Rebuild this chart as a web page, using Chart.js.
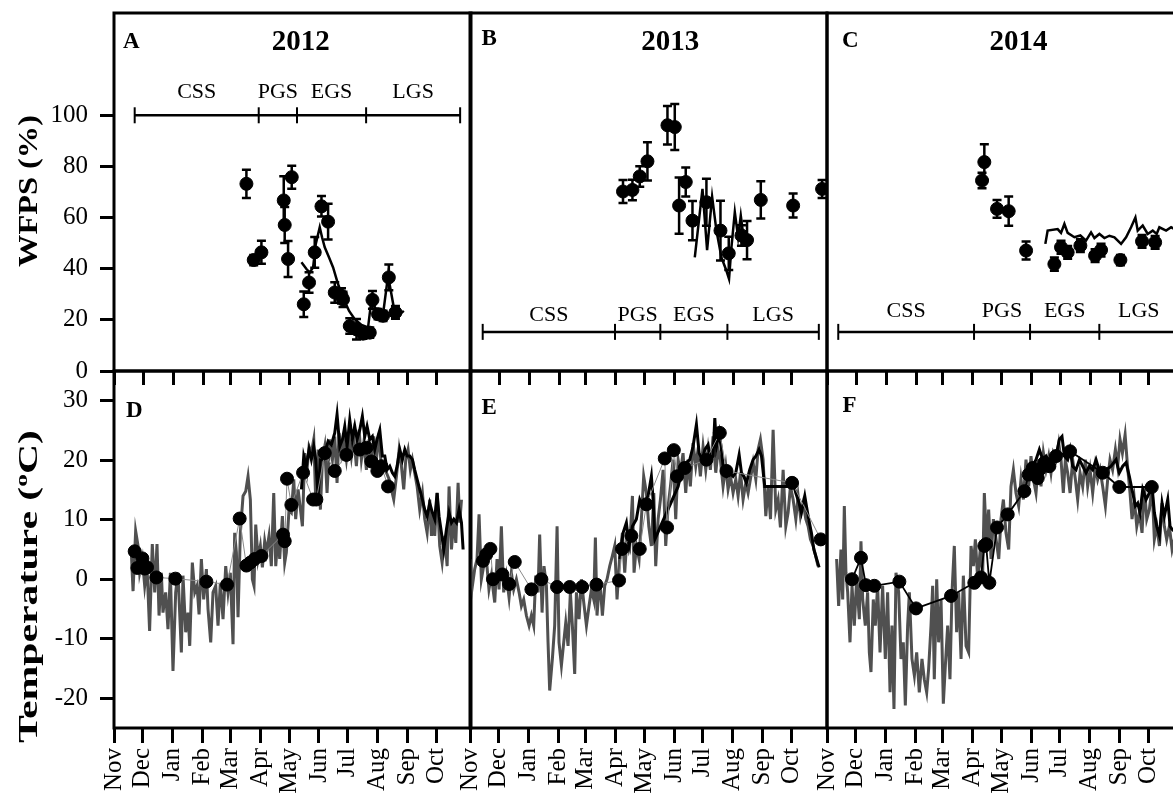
<!DOCTYPE html>
<html>
<head>
<meta charset="utf-8">
<script src="https://cdn.jsdelivr.net/npm/chart.js@4.4.1/dist/chart.umd.min.js"></script>
<style>
  html, body { margin: 0; padding: 0; background: #fff; }
  #wrap { position: relative; width: 1173px; height: 799px; overflow: hidden; background: #fff; }
  #wrap canvas { position: absolute; }
</style>
</head>
<body>
<div id="wrap">
  <canvas id="pA"></canvas><canvas id="pB"></canvas><canvas id="pC"></canvas>
  <canvas id="pD"></canvas><canvas id="pE"></canvas><canvas id="pF"></canvas>
</div>
<script>
// ---------- axis categories ----------
const months = ['Nov','Dec','Jan','Feb','Mar','Apr','May','Jun','Jul','Aug','Sep','Oct'];
// day offsets (from 1 Nov) of each month start; 2011/12 season contains 29 Feb
const monthStarts2012 = [0,30,61,92,121,152,182,213,243,274,305,335];
const monthStarts = [0,30,61,92,120,151,181,212,242,273,304,334];
const wfpsTicks = [0,20,40,60,80,100];
const tempTicks = [-20,-10,0,10,20,30];

// ---------- growing-season phases ----------
const phaseNames = ['CSS','PGS','EGS','LGS'];
const phaseBounds2012 = [21.5,150.4,190.2,262,359.7];
const phaseBounds2013 = [13.2,150.7,197.8,267.5,362.5];
const phaseBounds2014 = [11.7,152.8,211,283,365];

// ---------- WFPS (%): measured [day, mean, error] ----------
const wfps2012 = [[137.6,73.2,5.5],[145.2,43.4,2],[153.2,46.4,4.5],[176.4,66.7,9.5],[177.4,57.1,7],[180.9,43.8,7],[184.7,75.8,4.5],[197.2,26.1,5],[202.7,34.6,4],[208.6,46.4,6],[215.6,64.4,4],[222.5,58.4,7],[229.4,30.7,4],[236.4,29.4,3],[238,28,3],[245,17.6,3],[252,16.3,4],[258.8,14.6,2],[265.8,15,2],[268.6,27.8,3.5],[274.4,22.2,2],[279.6,21.6,2],[285.6,36.6,5],[292.5,22.9,2.5]];
const wfps2013 = [[159,70.2,4.5],[168.8,70.8,4],[176.4,76.1,4],[184.4,82,7.5],[205.2,96.1,7.5],[212.8,95.4,9],[217.3,64.7,11],[224.2,73.9,5.7],[231.2,58.8,7.7],[245.7,66,9.2],[260.3,54.9,11.7],[268.9,46,6.5],[282.1,53,4],[287.9,51.2,7.5],[302.2,66.9,7.3],[335.8,64.7,4.7],[365.9,71.2,3.5]];
const wfps2014 = [[161.1,74.5,3],[163.5,81.7,7],[176.7,63.4,3.5],[188.8,62.5,5.7],[206.9,47.1,3.5],[236.3,41.8,2.6],[243.2,48.4,2.5],[250.1,46.4,2.5],[263.3,49,2.5],[278.6,45.1,2.5],[284.8,47.3,2.5],[304.9,43.4,2],[327.4,50.7,2.5],[341,50.3,2.5]];

// ---------- WFPS (%): continuous record [day, value] ----------
const wfpsLine2012 = [[194.8,42.5],[200,39.9],[203.4,38.5],[206.9,40.5],[209.7,49.7],[213.8,56.2],[216.2,52.3],[219,48.4],[223.5,44.4],[227.7,40.5],[232.8,34],[238,28.7],[244.3,23.5],[250.2,20.3],[257.2,18],[264,17],[267.6,28.1],[273.4,22.9],[279.6,22.2],[284.8,37.3],[290.8,24.8],[297,22.2],[301.2,23.5]];
const wfpsLine2013 = [[233.6,44.4],[241.6,71.2],[246.4,47.3],[251.6,68.2],[256.1,54.9],[261.3,44.4],[266.5,39.2],[269.2,36],[271.7,48.4],[275.2,62.1],[278.6,52.3],[281.4,60.8],[284.5,51.6]];
const wfpsLine2014 = [[226.9,49.7],[229.3,54.9],[239.7,55.5],[243.2,54],[246.7,57.5],[250.1,54],[257.1,52.3],[263.3,53],[269.2,51],[274.4,54.2],[277.9,52],[283.1,53.6],[288.3,52],[293.5,52.9],[298.7,52.3],[305.6,49.7],[310.8,52.3],[316,56.2],[320.5,60],[322.9,54.9],[328.1,56.9],[333.3,53.6],[338.5,54.9],[342.6,53.6],[345.4,56.2],[352.4,54.9],[357.6,56.2],[364,55]];

// ---------- Temperature (°C): daily air [day, value] ----------
const air2012 = [[18,4.5],[19.8,-2],[22.5,8.1],[25,5.6],[26.7,1.1],[29.5,3.4],[31.9,-1.1],[34.3,2.2],[37,-8.7],[39.8,5.9],[42.3,-2.2],[44.7,5.9],[46.8,-6.1],[49.2,1.1],[50.9,-5.6],[53.7,-2.2],[56.1,-8.4],[58.6,1.1],[61.3,-15.4],[64.1,-2.2],[66.5,1.1],[70,-12.3],[71.7,0.6],[74.5,-8.9],[76.9,-5.6],[78.7,-11.2],[81.4,2.8],[83.9,-2.2],[86.3,-1.1],[88.4,-5.9],[90.8,3.4],[93.2,-3.4],[96,1.7],[97.7,-5],[100.5,-10.6],[102.9,-2.2],[105.7,-1.1],[108.1,-7.8],[110.5,-0.6],[113.3,-6.7],[116.1,2.2],[118.5,-2.2],[120.9,1.1],[123.7,-10.9],[125.4,7.8],[127.2,4.5],[128.9,-6.4],[131.3,7.8],[134.1,14],[136.9,14.8],[139.3,17.3],[141.7,13.4],[143.8,0],[145.5,-1.1],[147.3,9.2],[149.7,3.4],[152.1,5.6],[154.2,2],[156.6,6.4],[158.4,4.5],[161.1,7.3],[163.5,2.2],[166,14.5],[168.1,2.2],[170.5,7.8],[172.2,3.4],[175,10.6],[177.4,2.8],[179.1,4.5],[181.9,11.7],[184.3,11.2],[186.8,16.8],[188.8,10.1],[191.3,15.1],[193,12.8],[195.8,8.9],[198.2,21.2],[200.6,18.4],[202.7,22.3],[205.1,21.2],[207.6,23.5],[209.6,13.4],[212.1,21.8],[214.5,11.7],[216.6,20.1],[219,22.3],[221.4,14.5],[224.2,23.5],[227,20.1],[229.4,24],[231.8,16.2],[233.9,24.6],[236.3,21.2],[238.7,23.5],[241.5,20.1],[244.3,24],[246.7,20.7],[249.1,24],[251.9,19],[254.7,25.1],[257.1,20.1],[259.5,22.9],[262.3,18.4],[265.1,23.5],[267.5,19],[269.9,24],[272.7,20.1],[275.5,24.6],[277.9,18.4],[280.3,19],[283.1,17.9],[285.9,16.8],[288.3,15.1],[290.7,13.4],[293.5,17.3],[296.3,21.8],[298.7,19],[301.1,15.1],[303.2,20.1],[305.6,21.8],[308,18.4],[310.1,20.1],[312.5,17.9],[315,15.6],[317.7,11.7],[320.5,14.5],[322.9,10.1],[325.4,7.8],[328.1,13.4],[329.9,7.3],[331.6,10.6],[333.3,7.3],[335.8,14.5],[338.5,5.6],[341,2.8],[343.7,7.3],[346.2,2.2],[348.2,15.6],[350.7,5],[353.1,10.1],[355.2,6.1],[357.6,16.2],[359.3,9.5],[361.1,13.4]];
const air2013 = [[0,3.4],[2.5,-1.1],[4.9,1.7],[7.3,3.4],[9.4,10.9],[11.8,0],[14.2,2.2],[17,3.4],[19.7,-1.7],[22.2,0.6],[25.7,-3.9],[28.1,3.4],[30.2,-1.7],[32.6,8.9],[35,-2.2],[37.8,0.6],[40.6,-3.1],[43,1.1],[45.4,-1.7],[48.2,0],[51,-2.2],[53.4,-4.5],[55.8,-3.4],[58.6,-6.1],[61.4,-7.8],[63.8,-6.1],[66.2,-7.8],[68.3,0.6],[70.7,-2.2],[72.4,7.5],[74.9,-5.6],[76.9,2.2],[79.4,-1.1],[81.1,-10.6],[82.8,-18.7],[85.6,-13.4],[88,-7.8],[90.5,8.9],[92.5,-10.6],[95,-14.5],[97.4,-10.6],[99.5,-7.3],[101.9,-11.2],[104.3,-2.2],[106.4,-7.8],[108.8,-15.9],[110.6,-2.2],[113.3,-6.7],[115.8,0],[118.2,-3.9],[121,-7.8],[123.7,-4.5],[126.2,-1.7],[128.6,-3.4],[130.3,7],[132,-6.1],[134.8,0],[137.6,-6.1],[140,-1.1],[142.4,0],[145.2,2.2],[147.9,3.9],[150.4,5.6],[152.8,-3.4],[155.6,3.9],[158.4,7.8],[160.8,1.1],[163.2,7.3],[166,5.6],[168.8,14],[170.5,1.1],[172.9,5.6],[175.7,3.4],[178.1,10.1],[180.5,17.3],[183.3,14.5],[185.8,8.9],[188.5,5.6],[191,14.5],[193,2.2],[195.5,10.1],[197.9,13.4],[200.7,18.4],[203.4,5.6],[205.9,12.3],[208.3,15.6],[211.1,20.1],[213.8,10.1],[216.3,20.1],[218.7,17.9],[221.4,21.2],[224.2,14.5],[226.6,20.1],[229,15.6],[231.8,22.9],[234.6,19],[237,21.8],[239.4,17.3],[242.2,22.3],[245,18.4],[247.4,21.8],[249.8,18.4],[252.6,24],[255.4,17.9],[257.8,21.8],[260.2,20.1],[263,15.6],[265.8,19],[268.2,15.1],[270.7,17.3],[273.4,14.5],[276.2,16.8],[278.6,14],[281.1,17.9],[283.8,13.4],[286.6,16.2],[289,14.5],[291.4,16.8],[294.2,19.6],[297,16.8],[299.4,21.8],[301.8,23.5],[304.6,20.1],[307.4,10.6],[309.8,15.6],[312.3,10.1],[315,25.1],[317.8,11.7],[320.2,13.4],[322.6,8.7],[325.4,18.4],[328.2,8.9],[330.6,11.2],[333,15.6],[335.8,13.4],[338.6,10.1],[341,14],[343.4,10.6],[346.2,12.8],[349,10.1],[351.4,8.9],[353.8,6.7],[356.6,5.6],[359.3,3.9],[361.7,2.2]];
const air2014 = [[10,3.4],[12.1,-4.5],[14.5,5],[16.3,-3.4],[18,12.3],[19.7,1.1],[21.5,-2.2],[23.9,-10.6],[26,-1.1],[28.4,-7.8],[30.8,0],[33.6,-6.7],[35.3,6.4],[37.1,-3.4],[39.8,-7.8],[42.2,-2.2],[44,-12.3],[45.7,-15.6],[48.1,-3.4],[50.2,-7.8],[52.6,-1.1],[55.1,-12.3],[57.8,-1.1],[60.6,-13.4],[63,-2.2],[65.5,-19],[67.5,-7.8],[69.6,-21.8],[71.7,1.1],[74.5,-2.2],[76.9,-13.4],[79.3,-10.6],[81.4,-21.2],[83.8,-7.8],[85.6,-2.2],[88.3,-13.4],[90.8,-16.2],[93.2,-12.3],[95.9,-19],[98.7,-13.4],[101.1,-16.8],[103.6,-19],[105.6,-15.1],[108.1,-7.8],[109.8,-1.1],[111.5,-16.8],[114,0],[116,-10.6],[118.5,-3.4],[120.9,-20.9],[123,-14.5],[125.4,-7.8],[127.8,-16.8],[129.9,-2.2],[132.3,5.6],[134.7,-8.9],[136.8,-2.2],[139.3,-13.4],[141.7,0.6],[144.5,-11.2],[147.2,-12.3],[149.7,5.6],[152.1,2.2],[154.2,6.7],[156.6,0],[159,4.5],[161.8,1.1],[163.5,14.5],[165.9,6.1],[168,11.7],[170.5,3.4],[172.9,10.1],[175.7,6.7],[178.5,3.4],[180.8,10.1],[183.3,13.4],[186,7.8],[188.8,5],[191.2,15.6],[193.7,18.4],[196.4,14.5],[199.2,12.3],[201.6,16.8],[204.1,13.4],[206.8,20.1],[209.6,15.6],[212,20.7],[214.5,16.8],[217.2,14.5],[220,20.1],[222.4,15.6],[224.9,21.2],[227.6,18.4],[230.4,20.7],[232.8,17.9],[235.2,21.2],[238,20.1],[240.8,22.9],[243.2,20.1],[245.6,14.5],[247.7,20.1],[250.1,17.9],[252.6,14.5],[255.3,20.1],[258.1,16.8],[260.5,13.4],[263,17.9],[265.7,15.6],[268.5,20.1],[270.9,15.6],[273.4,18.4],[276.1,14.5],[278.9,19],[281.3,16.8],[283.8,18.4],[286.5,15.6],[289.3,12.3],[291.7,16.8],[294.1,20.1],[296.8,18.4],[299.7,21.8],[302.1,19],[304.5,23.5],[307,21.2],[309.8,24.3],[312.3,19],[314.9,14.5],[317,10.1],[319.4,13.4],[321.9,8.9],[324.6,11.2],[327.4,7.8],[329.8,15.6],[332.3,10.1],[335,11.7],[337.8,15.6],[340.2,6.7],[342.7,8.9],[345.5,5.6],[348.2,12.8],[350.6,8.9],[353,6.7],[355.8,8.9],[358.6,5],[362,7.5]];

// ---------- Temperature (°C): continuous soil record [day, value] ----------
const soil2012 = [[194.8,15.1],[197.2,20.7],[199.9,19],[202.7,21.8],[205.1,20.1],[207.6,22.3],[209.6,20.1],[212.1,14],[214.5,20.1],[217.3,20.1],[220,21.8],[222.5,23.2],[225.9,22.6],[229.4,24.6],[231.8,27.7],[234.6,22.3],[237.4,23.5],[239.8,25.7],[242.2,22.3],[245,26.8],[247.7,23.5],[250.2,25.7],[252.6,23.5],[255.4,25.1],[258.1,27.4],[260.6,24],[263,25.7],[265.8,23.5],[268.5,24],[271,21.8],[273.4,23.5],[276.2,25.1],[278.9,20.7],[281.4,20.7],[283.8,18.4],[286.6,19],[289.3,17.9],[291.8,17.3],[294.2,19],[297,21.8],[299.7,20.1],[302.2,21.8],[304.6,20.7],[307.3,20.7],[310.1,20.1],[312.5,18.4],[315,16.8],[317.7,15.1],[320.5,13.4],[322.9,11.7],[325.4,10.6],[328.1,12.8],[330.9,11.2],[333.3,10.1],[335.8,14.5],[337.8,10.6],[340.3,7.8],[342.7,5],[345.5,8.4],[348.2,11.2],[350.7,9.5],[353.1,10.1],[355.9,9.5],[358.6,11.7],[361.1,9.5],[362.8,5]];
const soil2013 = [[155.6,3.4],[159.1,7.8],[162.5,9.5],[165.3,5.6],[168.8,8.9],[172.9,10.1],[176.4,13.4],[179.2,12.3],[181.6,12.8],[185.1,14],[188.5,17.3],[190.3,13.4],[192,6.7],[216.3,15.6],[218.7,17.3],[221.4,18.4],[224.9,19.6],[228.4,20.1],[231.8,22.3],[235.3,26],[238.1,21.2],[241.5,20.1],[244,21.8],[247.4,22.6],[249.9,20.1],[252.6,20.7],[254.4,27.1],[256.1,22.3],[258.9,24.6],[261.3,21.8],[263.7,17.9],[266.5,17.3],[270,17.9],[273.4,17.3],[276.2,17.9],[279.7,20.9],[282.1,17.9],[284.5,17.3],[287.3,16.2],[290.7,18.4],[294.2,20.1],[297,20.7],[300.4,21.8],[302.9,20.7],[306.3,15.6],[332.3,15.6],[335.8,16.2],[338.6,14.5],[342,12.8],[344.4,11.2],[347.9,14],[351.4,10.6],[354.8,7.8],[357.3,5],[359.3,3.9],[362.8,2]];
const soil2014 = [[208.6,17.9],[213.8,19],[217.2,20.1],[220.7,21.8],[224.2,20.1],[227.6,20.7],[231.1,19.6],[234.6,21.2],[238,20.7],[241.5,23.5],[244.2,24],[246.7,20.7],[250.1,20.1],[252.6,21.8],[255.3,19],[258.8,18.4],[262.3,20.1],[265.7,19],[269.2,17.9],[272.7,19],[276.1,18.4],[279.6,20.1],[284.8,17.3],[290,18.4],[295.2,19],[300.4,20.1],[303.8,17.9],[307.3,19],[310.8,19.6],[314.2,17.3],[317.7,14.5],[320.5,12.3],[322.9,12.8],[325.3,11.2],[328.1,15.1],[331.6,13.4],[335,14.5],[337.8,15.6],[340.2,11.2],[342.7,8.9],[345.5,7.3],[348.2,12.8],[350.6,10.6],[354.1,13.4],[356.5,8.9],[358.6,8.4],[362.8,7.8]];

// ---------- Temperature (°C): at sampling dates [day, value] ----------
const sampleT2012 = [[21.5,4.7],[24.3,1.9],[29.5,3.5],[31.9,1.8],[34.3,2],[44,0.3],[63.8,0.1],[96,-0.4],[117.5,-0.9],[130.6,10.2],[137.6,2.3],[141.7,2.8],[146.2,3.4],[153.2,3.9],[175.7,7.5],[177.4,6.4],[179.8,16.9],[184.3,12.5],[196.5,17.9],[206.9,13.4],[210.3,13.4],[219,21.2],[229.4,18.2],[241.5,20.9],[255.4,21.8],[262.3,22.1],[267.5,19.8],[273.7,18.2],[277.9,19],[284.8,15.6]];
const sampleT2013 = [[13.5,3.1],[17,4.2],[21.2,5.1],[23.9,0],[33.6,0.8],[40.6,-0.8],[46.5,2.9],[63.8,-1.7],[74.2,0],[90.5,-1.3],[103.6,-1.3],[116.5,-1.3],[131.4,-0.9],[154.9,-0.2],[158,5.1],[167.7,7.3],[176.4,5.1],[183.3,12.6],[202.4,20.3],[204.8,8.7],[211.8,21.7],[215.2,17.3],[223.2,18.7],[245.7,20.1],[259.6,24.6],[266.5,18.2],[334.7,16.2],[364.5,6.7]];
const sampleT2014 = [[26,0],[35.3,3.6],[40.5,-1],[49.2,-1.1],[75.2,-0.4],[92.5,-4.9],[128.9,-2.8],[153.1,-0.6],[160,0.3],[163.5,5.6],[165.3,5.9],[168.7,-0.6],[176.7,8.7],[187.8,10.9],[205.1,14.8],[209.6,17.6],[213.8,18.7],[219,17],[220.7,18.4],[225.9,19.6],[231.1,19],[238,20.7],[252.6,21.5],[286.5,17.9],[303.8,15.5],[337.5,15.5]];

// ---------- drawing setup ----------
const SERIF = '"Liberation Serif", "Times New Roman", Times, serif';
const GRAY = '#505050';
const PLOT_W = 357, X_MAX = 371;
const COL_LEFT = [114, 470, 827];
const ROWS = [
  { top: 13,  h: 358, padT: 13, padB: 22,  min: 0,   max: 140 },
  { top: 371, h: 357, padT: 12, padB: 100, min: -25, max: 35  }
];
const PAD_R = 14, PAD_L_INNER = 20;

const xy = arr => arr.map(p => ({ x: p[0], y: p[1] }));

function panelPlugin(spec) {
  return {
    id: 'panelDecor',
    afterDatasetsDraw(chart) {
      const { ctx, chartArea: a, scales: { x, y } } = chart;
      ctx.save();
      ctx.strokeStyle = '#000';
      ctx.fillStyle = '#000';
      // error bars
      chart.data.datasets.forEach(ds => {
        if (!ds.errors) return;
        ctx.lineWidth = 2.5;
        ds.data.forEach((p, i) => {
          const px = x.getPixelForValue(p.x);
          const y1 = y.getPixelForValue(p.y + ds.errors[i]);
          const y2 = y.getPixelForValue(p.y - ds.errors[i]);
          ctx.beginPath();
          ctx.moveTo(px, y1); ctx.lineTo(px, y2);
          ctx.moveTo(px - 4.5, y1); ctx.lineTo(px + 4.5, y1);
          ctx.moveTo(px - 4.5, y2); ctx.lineTo(px + 4.5, y2);
          ctx.stroke();
        });
      });
      // phase bar
      if (spec.phase) {
        const ph = spec.phase;
        const yy = y.getPixelForValue(ph.level);
        const ly = y.getPixelForValue(ph.labelLevel);
        const xs = ph.bounds.map(d => x.getPixelForValue(d));
        ctx.lineWidth = 2.5;
        ctx.beginPath(); ctx.moveTo(xs[0], yy); ctx.lineTo(xs[xs.length - 1], yy); ctx.stroke();
        ctx.lineWidth = 2;
        xs.forEach(px => { ctx.beginPath(); ctx.moveTo(px, yy - 8); ctx.lineTo(px, yy + 8); ctx.stroke(); });
        ctx.font = '22px ' + SERIF;
        ctx.textAlign = 'center'; ctx.textBaseline = 'middle';
        phaseNames.forEach((n, i) => ctx.fillText(n, (xs[i] + xs[i + 1]) / 2, ly));
      }
      // month tick marks hanging from the shared top edge of the lower panels
      if (spec.topTicks) {
        ctx.lineWidth = 3;
        spec.monthStarts.forEach(d => {
          const px = Math.round(x.getPixelForValue(d)) + 0.5;
          ctx.beginPath(); ctx.moveTo(px, a.top); ctx.lineTo(px, a.top + 14); ctx.stroke();
        });
      }
      // panel letter and year
      ctx.textBaseline = 'middle';
      ctx.textAlign = 'left';
      ctx.font = 'bold 23px ' + SERIF;
      ctx.fillText(spec.letter, a.left + spec.letterDx, a.top + spec.letterDy);
      if (spec.year) {
        ctx.textAlign = 'center';
        ctx.font = 'bold 29px ' + SERIF;
        ctx.fillText(spec.year, x.getPixelForValue(spec.yearDay), a.top + 30);
      }
      ctx.restore();
    },
    afterDraw(chart) {
      const { ctx, chartArea: a } = chart;
      ctx.save();
      ctx.strokeStyle = '#000';
      ctx.lineWidth = 3;
      ctx.strokeRect(a.left, a.top, a.right - a.left, a.bottom - a.top);
      // vertical axis title, stretched along its length
      if (spec.axisTitle) {
        const t = spec.axisTitle;
        const big = 'bold 28px ' + SERIF, small = 'bold 17px ' + SERIF;
        let w = 0;
        const parts = t.parts.map(p => {
          ctx.font = p.sup ? small : big;
          const pw = ctx.measureText(p.text).width;
          w += pw;
          return { text: p.text, sup: p.sup, w: pw };
        });
        ctx.translate(a.left + t.dx, a.top + t.dy);
        ctx.rotate(-Math.PI / 2);
        ctx.scale(t.length / w, 1);
        ctx.fillStyle = '#000';
        ctx.textAlign = 'left';
        ctx.textBaseline = 'alphabetic';
        let cx = -w / 2;
        parts.forEach(p => {
          ctx.font = p.sup ? small : big;
          ctx.fillText(p.text, cx, p.sup ? -10 : 0);
          cx += p.w;
        });
      }
      ctx.restore();
    }
  };
}

function buildPanel(id, col, rowIdx, spec) {
  const row = ROWS[rowIdx];
  const left = col === 0;
  const padL = left ? COL_LEFT[0] : PAD_L_INNER;
  const W = padL + PLOT_W + PAD_R;
  const H = row.padT + row.h + row.padB;
  const cv = document.getElementById(id);
  cv.width = W; cv.height = H;
  cv.style.width = W + 'px'; cv.style.height = H + 'px';
  cv.style.left = (COL_LEFT[col] - padL) + 'px';
  cv.style.top = (row.top - row.padT) + 'px';
  spec.topTicks = rowIdx === 1;

  new Chart(cv, {
    type: 'scatter',
    data: { datasets: spec.datasets },
    options: {
      responsive: false,
      animation: false,
      devicePixelRatio: 1,
      events: [],
      layout: { autoPadding: false, padding: { left: left ? 0 : padL, right: PAD_R, top: row.padT, bottom: 0 } },
      plugins: { legend: { display: false }, tooltip: { enabled: false } },
      scales: {
        x: {
          type: 'linear', position: 'bottom', min: 0, max: X_MAX,
          afterBuildTicks: s => { s.ticks = spec.monthStarts.map(v => ({ value: v })); },
          afterFit: s => { s.height = row.padB; s.paddingLeft = 0; s.paddingRight = 0; },
          ticks: {
            display: rowIdx === 1, autoSkip: false, minRotation: 90, maxRotation: 90,
            padding: 5, color: '#000', font: { family: SERIF, size: 25 },
            callback: (v, i) => months[i]
          },
          grid: { drawOnChartArea: false, drawTicks: rowIdx === 1, tickLength: 15, lineWidth: 3, color: '#000' },
          border: { display: false }
        },
        y: {
          type: 'linear', position: 'left', display: left, min: row.min, max: row.max,
          afterBuildTicks: s => { s.ticks = spec.yTicks.map(v => ({ value: v })); },
          afterFit: s => { s.width = left ? padL : 0; s.paddingTop = 0; s.paddingBottom = 0; },
          ticks: { padding: 12, color: '#000', font: { family: SERIF, size: 25 }, callback: v => String(v) },
          grid: { drawOnChartArea: false, drawTicks: true, tickLength: 14, lineWidth: 3, color: '#000' },
          border: { display: false }
        }
      }
    },
    plugins: [panelPlugin(spec)]
  });
}

function wfpsSets(measured, record) {
  return [
    { data: xy(record), showLine: true, borderColor: '#000', borderWidth: 2.5, pointRadius: 0, order: 1 },
    { data: measured.map(p => ({ x: p[0], y: p[1] })), errors: measured.map(p => p[2]), showLine: false,
      pointRadius: 6.5, pointBackgroundColor: '#000', pointBorderColor: '#000', pointBorderWidth: 1, order: 0 }
  ];
}
function tempSets(air, soil, samples, linkColor, linkWidth) {
  return [
    { data: xy(air), showLine: true, borderColor: GRAY, borderWidth: 3, pointRadius: 0, order: 3 },
    { data: xy(soil), showLine: true, borderColor: '#000', borderWidth: 3, pointRadius: 0, order: 2 },
    { data: xy(samples), showLine: true, borderColor: linkColor, borderWidth: linkWidth,
      pointRadius: 6.5, pointBackgroundColor: '#000', pointBorderColor: '#000', pointBorderWidth: 1, order: 1 }
  ];
}

buildPanel('pA', 0, 0, {
  monthStarts: monthStarts2012, yTicks: wfpsTicks, datasets: wfpsSets(wfps2012, wfpsLine2012),
  letter: 'A', letterDx: 9, letterDy: 29.5, year: '2012', yearDay: 194,
  phase: { bounds: phaseBounds2012, level: 100, labelLevel: 109 },
  axisTitle: { parts: [{ text: 'WFPS (%)' }], dx: -77.5, dy: 178, length: 152 }
});
buildPanel('pB', 1, 0, {
  monthStarts: monthStarts, yTicks: wfpsTicks, datasets: wfpsSets(wfps2013, wfpsLine2013),
  letter: 'B', letterDx: 11.5, letterDy: 26, year: '2013', yearDay: 208,
  phase: { bounds: phaseBounds2013, level: 15.3, labelLevel: 22 }
});
buildPanel('pC', 2, 0, {
  monthStarts: monthStarts, yTicks: wfpsTicks, datasets: wfpsSets(wfps2014, wfpsLine2014),
  letter: 'C', letterDx: 15, letterDy: 28, year: '2014', yearDay: 199,
  phase: { bounds: phaseBounds2014, level: 15.3, labelLevel: 23.5 }
});
buildPanel('pD', 0, 1, {
  monthStarts: monthStarts2012, yTicks: tempTicks, datasets: tempSets(air2012, soil2012, sampleT2012, '#8a8a8a', 1),
  letter: 'D', letterDx: 12, letterDy: 40.5,
  axisTitle: { parts: [{ text: 'Temperature (' }, { text: 'o', sup: true }, { text: 'C)' }], dx: -77, dy: 215.5, length: 313 }
});
buildPanel('pE', 1, 1, {
  monthStarts: monthStarts, yTicks: tempTicks, datasets: tempSets(air2013, soil2013, sampleT2013, '#8a8a8a', 1),
  letter: 'E', letterDx: 11.5, letterDy: 37
});
buildPanel('pF', 2, 1, {
  monthStarts: monthStarts, yTicks: tempTicks, datasets: tempSets(air2014, soil2014, sampleT2014, '#000', 1.8),
  letter: 'F', letterDx: 15.5, letterDy: 35.5
});
</script>
</body>
</html>
